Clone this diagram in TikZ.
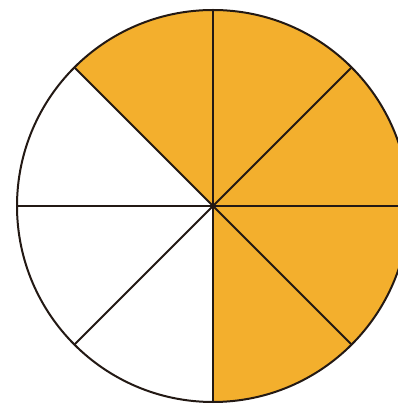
\documentclass[tikz,border=0pt]{standalone}
\definecolor{pieorange}{RGB}{243,175,45}
\definecolor{pieline}{RGB}{35,25,20}
\tikzset{
  sector/.style={fill=pieorange,draw=none},
  divider/.style={draw=pieline,line width=1.8pt},
  rim/.style={draw=pieline,line width=2pt}
}
\begin{document}
\begin{tikzpicture}[x=1pt,y=1pt]
\useasboundingbox (0,0) rectangle (398,407);
\clip (0,0) rectangle (398,407);
\fill[white] (0,0) rectangle (398,407);
\coordinate (c) at (213,201);
\def\R{196}
% shaded sectors: from -90 to 135 (five eighths)
\fill[sector] (c) -- ++(-90:\R) arc[start angle=-90,end angle=135,radius=\R] -- cycle;
% dividers
\foreach \a in {0,45,90,135} {
  \draw[divider] (c) -- ++(\a:\R);
  \draw[divider] (c) -- ++(\a+180:\R);
}
\draw[rim] (c) circle[radius=\R];
\fill[pieline] (c) circle[radius=2.5pt];
\end{tikzpicture}
\end{document}
